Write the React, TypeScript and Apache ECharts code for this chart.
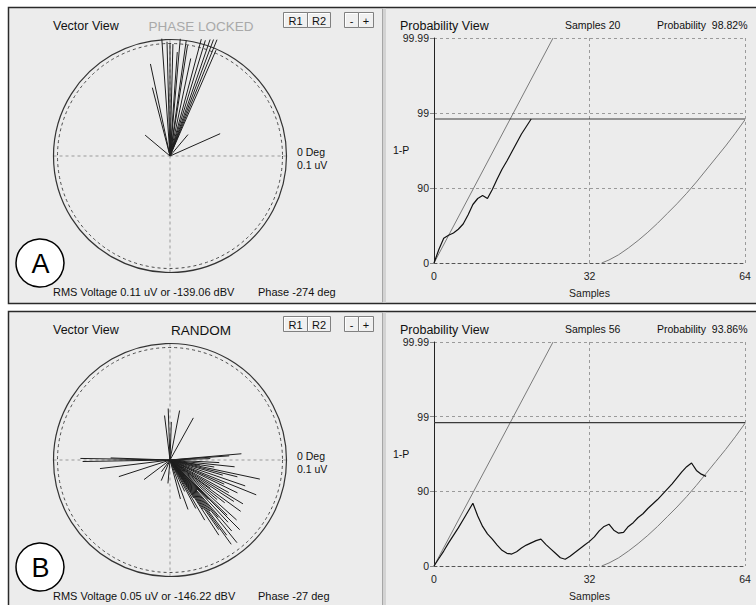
import React, { useEffect, useRef } from "react";
import * as echarts from "echarts";

// ---------- DATA ----------
// Vector view A (phase locked): magnitude in uV, phase in degrees (CCW from 0 Deg at right)
const A_MAG = [0.029, 0.025, 0.049, 0.084, 0.063, 0.105, 0.102, 0.101, 0.1, 0.105, 0.104, 0.1, 0.089, 0.108, 0.108, 0.11, 0.111, 0.112, 0.103, 0.093];
const A_PHASE = [140, 50, 24, 102, 104.5, 94, 91.5, 90, 88.5, 85, 82, 81, 78, 75, 73, 71, 69.5, 68, 66.5, 86];

// Vector view B (random)
const B_MAG = [0.08, 0.078, 0.063, 0.048, 0.029, 0.053, 0.013, 0.02, 0.021, 0.04, 0.046, 0.045, 0.043, 0.034, 0.064, 0.053, 0.036, 0.044, 0.058, 0.04, 0.082, 0.062, 0.049, 0.071, 0.083, 0.053, 0.067, 0.06, 0.076, 0.068, 0.044, 0.078, 0.062, 0.055, 0.08, 0.071, 0.088, 0.049, 0.076, 0.036, 0.084, 0.067, 0.095, 0.058, 0.084, 0.093, 0.076, 0.053, 0.08, 0.04, 0.062, 0.049, 0.031, 0.047, 0.036, 0.027];
const B_PHASE = [179, 181, 187, 198, 217, 178, 234, 247, 265, 97, 92, 79, 61, 88, 5, 4, 2, 357, 354, 351, 348, 346, 344, 341, 338, 336, 334, 331, 329, 327, 325, 324, 322, 320, 318, 316, 315, 314, 313, 312, 311, 310, 309, 308, 307, 306, 305, 304, 303, 302, 300, 298, 295, 290, 285, 350];

// Probability view: running value per sample (axis units: 0 -> "0", 1 -> "90", 2 -> "99", 3 -> "99.99")
const A_CURVE = [0, 0.18, 0.33, 0.37, 0.4, 0.45, 0.52, 0.64, 0.78, 0.86, 0.9, 0.86, 0.98, 1.12, 1.25, 1.36, 1.48, 1.6, 1.72, 1.82, 1.92];
const B_CURVE = [0, 0.1, 0.2, 0.31, 0.41, 0.51, 0.62, 0.73, 0.84, 0.67, 0.53, 0.43, 0.36, 0.28, 0.21, 0.17, 0.16, 0.19, 0.24, 0.28, 0.31, 0.34, 0.36, 0.29, 0.23, 0.17, 0.11, 0.09, 0.13, 0.18, 0.23, 0.28, 0.33, 0.39, 0.47, 0.53, 0.56, 0.48, 0.44, 0.45, 0.53, 0.58, 0.65, 0.7, 0.77, 0.83, 0.89, 0.96, 1.03, 1.1, 1.18, 1.26, 1.33, 1.38, 1.28, 1.23, 1.2];

// Upper limit line (straight) and lower limit curve
const UPPER_X = [0, 24.5];
const UPPER_Y = [0, 3];
const LOWER_X = [34.5, 36, 38, 40, 42, 44, 46, 48, 50, 52, 54, 56, 58, 60, 62, 64];
const LOWER_Y = [0, 0.04, 0.11, 0.2, 0.3, 0.41, 0.53, 0.66, 0.79, 0.93, 1.08, 1.24, 1.4, 1.56, 1.73, 1.91];
const THRESHOLD = 1.92;

const X_TICKS = [0, 32, 64];
const Y_TICK_LABELS = ["0", "90", "99", "99.99"];

const PANELS = [
  { mode: "PHASE LOCKED", modeColor: "#a9a9a9", letter: "A", samples: "Samples 20", prob: "Probability  98.82%", rms: "RMS Voltage 0.11 uV or -139.06 dBV", phase: "Phase -274 deg" },
  { mode: "RANDOM", modeColor: "#111111", letter: "B", samples: "Samples 56", prob: "Probability  93.86%", rms: "RMS Voltage 0.05 uV or -146.22 dBV", phase: "Phase -27 deg" },
];

const FONT = '"Liberation Sans", Arial, sans-serif';

function txt(text: string, x: number, y: number, size: number, fill = "#111", align = "left") {
  return {
    type: "text",
    z: 20,
    silent: true,
    style: { text, x, y, fill, fontSize: size, fontFamily: FONT, align, textAlign: align, verticalAlign: "middle", textVerticalAlign: "middle" },
  };
}

function button(label: string, x: number, y: number, w: number, h: number) {
  return [
    { type: "rect", z: 15, silent: true, shape: { x: x + 0.5, y: y + 0.5, width: w, height: h }, style: { fill: "#f0f0f0", stroke: "#808080", lineWidth: 1 } },
    { type: "polyline", z: 16, silent: true, shape: { points: [[x + 1.5, y + h - 0.5], [x + 1.5, y + 1.5], [x + w - 0.5, y + 1.5]] }, style: { stroke: "#ffffff", lineWidth: 1, fill: null } },
    txt(label, x + w / 2 + 0.5, y + h / 2 + 1, 11, "#111", "center"),
  ];
}

function panelGraphics(i: number) {
  const p = PANELS[i];
  const dy = i * 304;
  const frameTop = i === 0 ? 7.5 : 311.5;
  const frameH = i === 0 ? 296 : 300;
  const els: any[] = [
    { type: "rect", z: -10, silent: true, shape: { x: 8.5, y: frameTop, width: 800, height: frameH }, style: { fill: "#ececec", stroke: "#2a2a2a", lineWidth: 1.5 } },
    { type: "rect", z: -9, silent: true, shape: { x: 382, y: frameTop + 1, width: 4, height: frameH - 2 }, style: { fill: "#d3d3d3" } },
    { type: "line", z: -8, silent: true, shape: { x1: 382.5, y1: frameTop + 1, x2: 382.5, y2: frameTop + frameH - 1 }, style: { stroke: "#a6a6a6", lineWidth: 1 } },
    txt("Vector View", 53, 26 + dy, 12.5),
    txt(p.mode, 201, 26 + dy, 13.5, p.modeColor, "center"),
    txt("0 Deg", 297, 152 + dy, 10.5),
    txt("0.1 uV", 297, 165 + dy, 10.5),
    txt(p.rms, 53, 292 + dy, 11),
    txt(p.phase, 258, 292 + dy, 11),
    txt("Probability View", 400, 26 + dy, 12.5),
    txt(p.samples, 565, 25 + dy, 10.5),
    txt(p.prob, 657, 25 + dy, 10.5),
    txt("1-P", 393, 150 + dy, 10.5),
    { type: "circle", z: 18, silent: true, shape: { cx: 40, cy: 263 + dy, r: 24 }, style: { fill: "#ffffff", stroke: "#000", lineWidth: 1.5 } },
    { ...txt(p.letter, 40.5, 264 + dy, 27, "#000", "center"), z: 19 },
    ...button("R1", 283, 12 + dy, 24, 15),
    ...button("R2", 307, 12 + dy, 23, 15),
    ...button("-", 344, 12 + dy, 14, 15),
    ...button("+", 358, 12 + dy, 15, 15),
  ];
  return els;
}

function vectorSeries(mag: number[], phase: number[], polarIndex: number) {
  return {
    type: "custom",
    coordinateSystem: "polar",
    polarIndex,
    silent: true,
    clip: false,
    z: 5,
    encode: { radius: 0, angle: 1 },
    data: mag.map((m, k) => [m, phase[k]]),
    renderItem: (params: any, api: any) => {
      const r = api.value(0);
      const a = api.value(1);
      const p0 = api.coord([0, a]);
      const p1 = api.coord([r, a]);
      return { type: "line", shape: { x1: p0[0], y1: p0[1], x2: p1[0], y2: p1[1] }, style: { stroke: "#1e1e1e", lineWidth: 1 } };
    },
  };
}

function polarSet(cy: number) {
  return [
    { center: [170, cy], radius: 116.5 },
    { center: [170, cy], radius: 112.5 },
  ];
}

function angleAxes(base: number) {
  return [
    {
      polarIndex: base, type: "value", min: 0, max: 360, interval: 90, startAngle: 0, clockwise: false,
      axisLine: { show: true, lineStyle: { color: "#333", width: 1.2 } },
      axisTick: { show: false }, axisLabel: { show: false },
      splitLine: { show: true, lineStyle: { color: "#9a9a9a", width: 1, type: [3, 3] } },
    },
    {
      polarIndex: base + 1, type: "value", min: 0, max: 360, interval: 90, startAngle: 0, clockwise: false,
      axisLine: { show: true, lineStyle: { color: "#4a4a4a", width: 1, type: [3, 3] } },
      axisTick: { show: false }, axisLabel: { show: false }, splitLine: { show: false },
    },
  ];
}

function radiusAxes(base: number) {
  return [base, base + 1].map((k) => ({
    polarIndex: k, type: "value", min: 0, max: 0.104,
    axisLine: { show: false }, axisTick: { show: false }, axisLabel: { show: false }, splitLine: { show: false },
  }));
}

function probAxes(gi: number) {
  const x = {
    gridIndex: gi, type: "value", min: 0, max: 64, interval: 32,
    axisLine: { show: true, lineStyle: { color: "#555", type: [3, 3] } },
    axisTick: { show: false },
    axisLabel: { margin: 7, fontSize: 10.5, fontFamily: FONT, color: "#222", formatter: (v: number) => (X_TICKS.indexOf(v) >= 0 ? String(v) : "") },
    splitLine: { show: true, lineStyle: { color: "#9a9a9a", type: [3, 3] } },
    name: "Samples", nameLocation: "middle", nameGap: 24,
    nameTextStyle: { fontSize: 10.5, fontFamily: FONT, color: "#222" },
  };
  const y = {
    gridIndex: gi, type: "value", min: 0, max: 3, interval: 1,
    axisLine: { show: true, lineStyle: { color: "#222" } },
    axisTick: { show: true, length: 4, lineStyle: { color: "#888" } },
    axisLabel: { margin: 5, fontSize: 10.5, fontFamily: FONT, color: "#222", formatter: (v: number) => Y_TICK_LABELS[Math.round(v)] ?? "" },
    splitLine: { show: true, lineStyle: { color: "#9a9a9a", type: [3, 3] } },
  };
  return { x, y };
}

function lineSeries(gi: number, data: number[][], color: string, width = 1, z = 3) {
  return {
    type: "line", xAxisIndex: gi, yAxisIndex: gi, data, symbol: "none", silent: true, z,
    lineStyle: { color, width }, smooth: false,
  };
}

function probSeries(gi: number, curve: number[]) {
  return [
    lineSeries(gi, UPPER_X.map((x, k) => [x, UPPER_Y[k]]), "#7a7a7a"),
    lineSeries(gi, LOWER_X.map((x, k) => [x, LOWER_Y[k]]), "#7a7a7a"),
    lineSeries(gi, [[0, THRESHOLD], [64, THRESHOLD]], "#3a3a3a", 1.2),
    lineSeries(gi, curve.map((v, k) => [k, v]), "#111", 1.2, 4),
  ];
}

export default function App() {
  const ref = useRef<HTMLDivElement>(null);
  useEffect(() => {
    if (!ref.current) return;
    const chart = echarts.init(ref.current, undefined, { renderer: "svg" });
    const pa = probAxes(0);
    const pb = probAxes(1);
    chart.setOption({
      animation: false,
      backgroundColor: "#ffffff",
      polar: [...polarSet(156), ...polarSet(460)],
      angleAxis: [...angleAxes(0), ...angleAxes(2)],
      radiusAxis: [...radiusAxes(0), ...radiusAxes(2)],
      grid: [
        { left: 434, top: 38, width: 311, height: 225 },
        { left: 434, top: 342, width: 311, height: 224 },
      ],
      xAxis: [pa.x, pb.x],
      yAxis: [pa.y, pb.y],
      graphic: [...panelGraphics(0), ...panelGraphics(1)],
      series: [
        vectorSeries(A_MAG, A_PHASE, 0),
        vectorSeries(B_MAG, B_PHASE, 2),
        ...probSeries(0, A_CURVE),
        ...probSeries(1, B_CURVE),
      ],
    });
    return () => chart.dispose();
  }, []);
  return <div ref={ref} style={{ position: "fixed", left: 0, top: 0, width: 756, height: 605 }} />;
}
